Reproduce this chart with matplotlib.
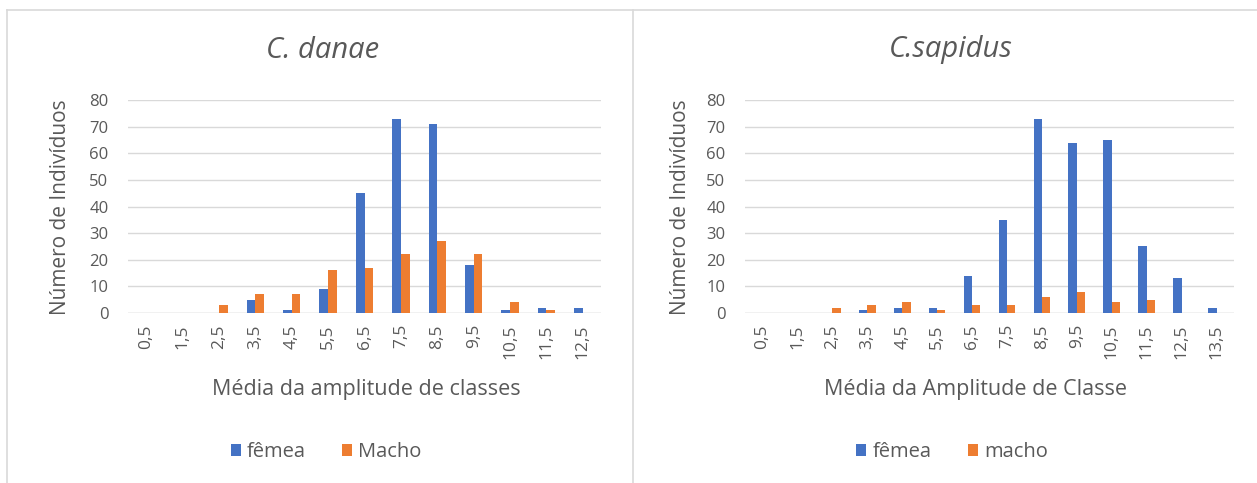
import matplotlib
matplotlib.use("Agg")
import matplotlib.pyplot as plt
import numpy as np
from matplotlib.lines import Line2D

plt.rcParams['font.family'] = ['Open Sans', 'DejaVu Sans']

# Left chart: C. danae
cat_left = ["0,5", "1,5", "2,5", "3,5", "4,5", "5,5", "6,5", "7,5", "8,5", "9,5", "10,5", "11,5", "12,5"]
femea_left = [0, 0, 0, 5, 1, 9, 45, 73, 71, 18, 1, 2, 2]
macho_left = [0, 0, 3, 7, 7, 16, 17, 22, 27, 22, 4, 1, 0]

# Right chart: C. sapidus
cat_right = ["0,5", "1,5", "2,5", "3,5", "4,5", "5,5", "6,5", "7,5", "8,5", "9,5", "10,5", "11,5", "12,5", "13,5"]
femea_right = [0, 0, 0, 1, 2, 2, 14, 35, 73, 64, 65, 25, 13, 2]
macho_right = [0, 0, 2, 3, 4, 1, 3, 3, 6, 8, 4, 5, 0, 0]

yticks = [0, 10, 20, 30, 40, 50, 60, 70, 80]

BLUE = "#4472C4"
ORANGE = "#ED7D31"
TXT = "#595959"
GRID = "#D9D9D9"

W, H = 1257, 483
fig = plt.figure(figsize=(W / 100, H / 100), dpi=100)

def fx(x): return x / W
def fy(y): return 1 - y / H

# panel borders
border = dict(color="#D9D9D9", lw=1.2, transform=fig.transFigure)
fig.add_artist(Line2D([fx(7), fx(1257)], [fy(10), fy(10)], **border))
fig.add_artist(Line2D([fx(7), fx(7)], [fy(10), fy(483)], **border))
fig.add_artist(Line2D([fx(633), fx(633)], [fy(10), fy(483)], **border))


def draw(ax_rect, cats, fem, mac, title, ylabel, xlabel, lab_f, lab_m,
         title_x, xlab_x, leg_x, ylab_x):
    ax = fig.add_axes(ax_rect)
    x = np.arange(len(cats))
    bw = 0.24
    ax.bar(x - bw / 2, fem, bw, color=BLUE, label=lab_f, zorder=3)
    ax.bar(x + bw / 2, mac, bw, color=ORANGE, label=lab_m, zorder=3)
    ax.set_xlim(-0.5, len(cats) - 0.5)
    ax.set_ylim(0, 80)
    ax.set_yticks(yticks)
    ax.set_xticks(x)
    ax.set_xticklabels(cats, rotation=90, fontsize=12.5, color=TXT)
    ax.tick_params(axis='y', labelsize=12, labelcolor=TXT, length=0, pad=14)
    ax.tick_params(axis='x', length=0, pad=8)
    for s in ax.spines.values():
        s.set_visible(False)
    ax.grid(axis='y', color=GRID, lw=1, zorder=0)
    ax.axhline(0, color=GRID, lw=1, zorder=1)
    fig.text(fx(ylab_x), fy(207), ylabel, fontsize=15, color=TXT, rotation=90,
             ha='center', va='center')
    fig.text(fx(title_x), fy(50), title, fontsize=21, style='italic', color=TXT,
             ha='center', va='center')
    fig.text(fx(xlab_x), fy(390), xlabel, fontsize=15.5, color=TXT, ha='center', va='center')
    leg = ax.legend(loc='center', bbox_to_anchor=(fx(leg_x), fy(452)),
                    bbox_transform=fig.transFigure, ncol=2, frameon=False,
                    fontsize=14.5, handlelength=0.5, handleheight=0.5,
                    handletextpad=0.3, columnspacing=1.8)
    for t in leg.get_texts():
        t.set_color(TXT)
    return ax


draw([fx(128), 1 - 313 / H, 473 / W, 213 / H], cat_left, femea_left, macho_left,
     "C. danae", "Número de Indivíduos", "Média da amplitude de classes",
     "fêmea", "Macho", 323, 366, 326, 60)
draw([fx(745), 1 - 313 / H, 489 / W, 213 / H], cat_right, femea_right, macho_right,
     "C.sapidus", "Número de Indivíduos", "Média da Amplitude de Classe",
     "fêmea", "macho", 951, 975, 952, 680)

fig.savefig("out.png", dpi=100, facecolor="white")
